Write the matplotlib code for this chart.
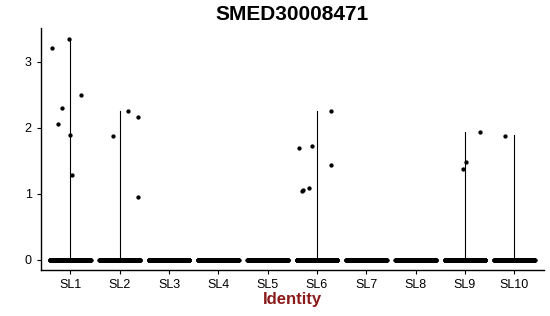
import numpy as np
import matplotlib
matplotlib.use("Agg")
import matplotlib.pyplot as plt

plt.rcParams['font.family'] = ['Liberation Sans', 'DejaVu Sans']

title = "SMED30008471"
clusters = ["SL1", "SL2", "SL3", "SL4", "SL5", "SL6", "SL7", "SL8", "SL9", "SL10"]
# non-zero expression values per cluster
nonzero_values = {
    "SL1": [3.21, 3.34, 2.30, 2.05, 2.50, 1.89, 1.29],
    "SL2": [1.88, 2.25, 2.16, 0.955],
    "SL3": [],
    "SL4": [],
    "SL5": [],
    "SL6": [2.26, 1.69, 1.72, 1.44, 1.045, 1.09, 1.05],
    "SL7": [],
    "SL8": [],
    "SL9": [1.93, 1.48, 1.38],
    "SL10": [1.875],
}
# jitter offsets of the non-zero points (as seen in the picture)
nonzero_jitter = {
    "SL1": [-0.37, -0.02, -0.17, -0.25, 0.22, -0.01, 0.03],
    "SL2": [-0.13, 0.17, 0.37, 0.37],
    "SL6": [0.28, -0.36, -0.11, 0.29, -0.30, -0.17, -0.28],
    "SL9": [0.30, 0.03, -0.05],
    "SL10": [-0.19],
}
n_zero_cells = [300, 300, 300, 300, 300, 300, 300, 300, 300, 300]
violin_max = {"SL1": 3.34, "SL2": 2.26, "SL6": 2.26, "SL9": 1.93, "SL10": 1.885}

fig = plt.figure(figsize=(5.5, 3.16), dpi=100)
ax = fig.add_axes([0.074, 0.1456, 0.915, 0.7648])

pos = np.arange(1, len(clusters) + 1)
for i, c in enumerate(clusters):
    x0 = pos[i]
    # violin outline (degenerate): horizontal at 0 and vertical to max
    ax.plot([x0 - 0.45, x0 + 0.45], [0, 0], color="#888888", lw=0.6, zorder=1)
    if c in violin_max:
        ax.plot([x0, x0], [0, violin_max[c]], color="black", lw=0.8, zorder=2)
    # zero-valued cells
    nz = n_zero_cells[i]
    xs = x0 + np.linspace(-0.41, 0.41, nz)
    ax.plot(xs, np.zeros(nz), 'o', color="black", ms=3.1, mew=0, zorder=3)
    vals = nonzero_values[c]
    if vals:
        jx = x0 + np.array(nonzero_jitter[c])
        ax.plot(jx, vals, 'o', color="black", ms=3.1, mew=0, zorder=3)

ax.set_xlim(0.4, 10.6)
ax.set_ylim(-0.156, 3.506)
ax.set_xticks(pos)
ax.set_xticklabels(clusters)
ax.set_yticks([0, 1, 2, 3])
for s in ["top", "right"]:
    ax.spines[s].set_visible(False)
for s in ["left", "bottom"]:
    ax.spines[s].set_linewidth(1.0)
ax.tick_params(axis='both', labelsize=9, colors="black", length=3, width=0.8)
ax.set_xlabel("Identity", fontsize=12, fontweight="bold", color="#8B1A1A", labelpad=1)
ax.set_title(title, fontsize=15, fontweight="bold", pad=6)

fig.savefig("out.png", dpi=100)
